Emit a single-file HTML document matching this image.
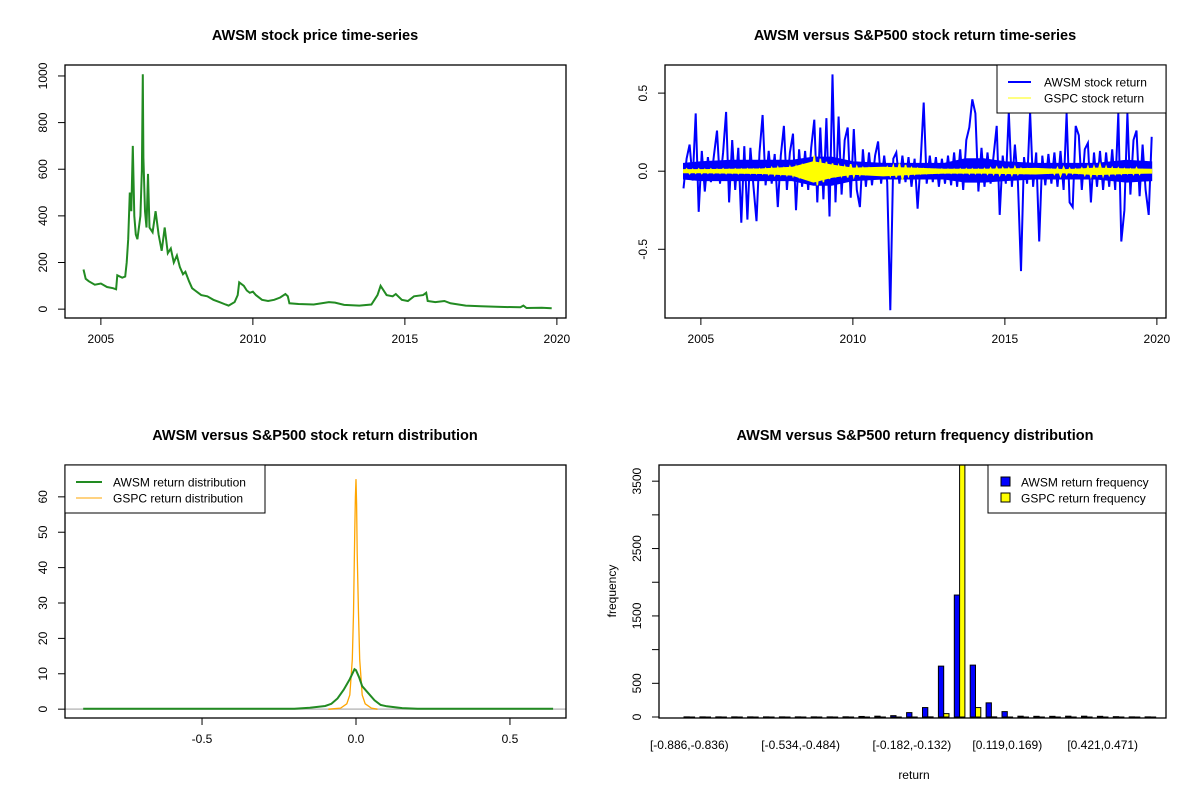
<!DOCTYPE html>
<html><head><meta charset="utf-8"><style>
body{margin:0;background:#fff;}
svg{display:block;font-family:"Liberation Sans",Arial,sans-serif;}
text{fill:#000;}
.t{font-size:14.5px;font-weight:bold;}
.k{font-size:12px;}
</style></head><body>
<svg id="c" width="1200" height="800" viewBox="0 0 1200 800">
<rect width="1200" height="800" fill="#fff"/>
</svg>
<script>
// ---- price panel data
const priceDates=[2004.43,2004.5,2004.6,2004.8,2005.0,2005.2,2005.4,2005.5,2005.54,2005.7,2005.8,2005.85,2005.9,2005.95,2006.0,2006.05,2006.1,2006.15,2006.2,2006.3,2006.35,2006.38,2006.4,2006.45,2006.5,2006.55,2006.6,2006.7,2006.8,2006.9,2007.0,2007.1,2007.2,2007.3,2007.4,2007.5,2007.6,2007.7,2007.78,2007.9,2008.0,2008.1,2008.2,2008.3,2008.5,2008.7,2008.9,2009.1,2009.2,2009.4,2009.5,2009.55,2009.7,2009.8,2009.9,2010.0,2010.1,2010.3,2010.5,2010.7,2010.9,2011.07,2011.15,2011.2,2011.5,2012.0,2012.5,2012.7,2013.0,2013.5,2013.9,2014.1,2014.2,2014.4,2014.6,2014.7,2014.9,2015.1,2015.3,2015.6,2015.7,2015.75,2016.0,2016.3,2016.5,2017.0,2017.5,2018.0,2018.8,2018.9,2019.0,2019.5,2019.83];
const priceValues=[170,130,120,105,110,95,90,85,145,135,140,200,300,500,420,700,400,320,300,400,600,1007,650,420,350,580,350,330,420,320,250,350,240,260,200,230,180,150,160,120,90,80,70,60,55,40,30,20,15,30,60,115,100,80,70,75,60,40,35,40,50,65,55,25,22,20,30,28,18,15,20,60,100,60,55,65,40,35,55,60,70,35,30,35,25,15,12,10,8,15,5,6,4];
const priceTicks=[0,200,400,600,800,1000];
const yearTicks=[2005,2010,2015,2020];
// ---- returns panel data (one value every 0.1 year starting 2004.43)
const retStart=2004.43, retStep=0.1;
const awsmReturns=[-0.11,0.08,0.17,-0.06,0.37,-0.26,0.13,-0.13,0.09,-0.07,0.1,0.26,-0.08,0.12,0.38,-0.2,0.2,-0.12,0.15,-0.33,0.16,-0.31,0.15,-0.1,-0.32,0.12,0.36,-0.09,0.13,-0.08,0.11,-0.23,0.1,0.29,-0.12,0.12,0.24,-0.25,0.14,-0.1,0.13,-0.12,0.15,0.33,-0.2,0.28,-0.18,0.34,-0.29,0.62,-0.2,0.35,-0.15,0.2,0.28,-0.17,0.27,-0.12,-0.23,0.14,-0.1,0.12,-0.09,0.1,0.19,-0.08,0.1,-0.07,-0.89,0.08,0.12,-0.08,0.1,-0.07,0.09,-0.1,0.08,-0.24,0.07,0.44,-0.08,0.1,-0.07,0.09,-0.1,0.08,-0.08,0.1,-0.09,0.12,-0.1,0.14,-0.12,0.2,0.28,0.46,0.37,-0.13,0.15,-0.1,0.12,-0.08,0.1,0.29,-0.28,0.1,-0.08,0.38,-0.1,0.17,-0.07,-0.64,0.09,-0.08,0.38,-0.1,0.12,-0.45,0.1,-0.09,0.11,-0.08,0.12,-0.1,0.13,-0.12,0.37,-0.2,-0.23,0.29,0.23,-0.12,0.14,0.18,-0.2,0.12,-0.1,0.13,-0.12,0.12,-0.1,0.14,-0.12,0.37,-0.45,-0.25,0.37,-0.15,0.2,0.26,-0.16,0.17,-0.12,-0.28,0.22];
const gspcReturns=[-0.01,0.015,-0.015,0.012,-0.012,0.015,-0.014,0.012,-0.012,0.014,-0.013,0.012,-0.012,0.015,-0.014,0.012,-0.013,0.014,-0.015,0.013,-0.012,0.015,-0.014,0.013,-0.015,0.014,-0.016,0.018,-0.02,0.022,-0.025,0.025,-0.022,0.02,-0.025,0.028,-0.03,0.03,-0.035,0.035,-0.04,0.045,-0.05,0.1,-0.09,0.08,-0.07,0.06,-0.05,0.05,-0.04,0.035,-0.03,0.03,-0.04,0.045,-0.035,0.03,-0.025,0.022,-0.02,0.02,-0.018,0.016,-0.015,0.014,-0.02,0.025,-0.03,0.035,-0.04,0.05,-0.055,0.04,-0.03,0.022,-0.02,0.018,-0.016,0.015,-0.014,0.013,-0.013,0.012,-0.012,0.013,-0.012,0.012,-0.013,0.012,-0.012,0.014,-0.013,0.015,-0.016,0.014,-0.015,0.013,-0.014,0.016,-0.018,0.02,-0.02,0.025,-0.025,0.022,-0.02,0.02,-0.025,0.028,-0.02,0.018,-0.015,0.015,-0.014,0.012,-0.012,0.011,-0.01,0.01,-0.012,0.012,-0.02,0.022,-0.03,0.025,-0.02,0.018,-0.016,0.015,-0.014,0.02,-0.025,0.03,-0.035,0.03,-0.025,0.045,-0.03,0.028,-0.025,0.022,-0.02,0.02,-0.018,0.016,-0.015,0.014,-0.02,0.022,-0.018,0.015];
// typical daily-return envelope (dense band) by date
const bandDates=[2004.43,2005,2006,2007,2008,2008.7,2009.3,2010,2011,2012,2013,2013.7,2014.3,2015,2016,2017,2018,2019,2019.83];
const awsmBandHi=[0.05,0.06,0.07,0.07,0.07,0.09,0.09,0.06,0.05,0.05,0.05,0.08,0.08,0.06,0.05,0.05,0.05,0.07,0.06];
const awsmBandLo=[-0.05,-0.06,-0.06,-0.06,-0.06,-0.09,-0.09,-0.06,-0.05,-0.05,-0.05,-0.07,-0.07,-0.06,-0.05,-0.05,-0.05,-0.07,-0.06];
const gspcBandHi=[0.01,0.01,0.012,0.015,0.025,0.06,0.04,0.02,0.025,0.02,0.012,0.012,0.012,0.015,0.018,0.01,0.02,0.015,0.012];
const gspcBandLo=[-0.01,-0.01,-0.012,-0.015,-0.025,-0.07,-0.04,-0.02,-0.03,-0.02,-0.012,-0.012,-0.012,-0.015,-0.018,-0.01,-0.022,-0.015,-0.012];
const retTicks=[-0.5,0,0.5];
// ---- density panel data
const awsmDensX=[-0.886,-0.2,-0.15,-0.1,-0.08,-0.06,-0.04,-0.02,-0.005,0.0,0.01,0.02,0.04,0.06,0.08,0.1,0.15,0.2,0.64];
const awsmDensY=[0.1,0.1,0.4,0.9,1.5,3,5.5,8.5,11.3,11,9,6.5,4.5,2.5,1.2,0.8,0.3,0.1,0.1];
const gspcDensX=[-0.09,-0.05,-0.03,-0.02,-0.012,-0.008,-0.004,-0.002,0,0.002,0.004,0.008,0.012,0.02,0.03,0.05,0.07];
const gspcDensY=[0,0.3,1.5,4,14,27,51,60,65,58,44,27,14,4,1.5,0.3,0];
const densXTicks=[-0.5,0,0.5];
const densYTicks=[0,10,20,30,40,50,60];
// ---- histogram data
const binLabels=["[-0.886,-0.836)","[-0.534,-0.484)","[-0.182,-0.132)","[0.119,0.169)","[0.421,0.471)"];
const binLabelIdx=[0,7,14,20,26];
const awsmFreq=[2,2,2,2,2,2,2,2,2,2,3,8,12,20,65,140,755,1810,770,210,80,12,10,10,12,12,10,5,2,2];
const gspcFreq=[0,0,0,0,0,0,0,0,0,0,0,0,0,0,0,2,50,3830,140,2,0,0,0,0,0,0,0,0,0,0];
const freqTicks=[0,500,1000,1500,2000,2500,3000,3500];
const freqLabels=["0","500","","1500","","2500","","3500"];

const NS="http://www.w3.org/2000/svg";
const svg=document.getElementById('c');
function el(tag,attrs,parent){const e=document.createElementNS(NS,tag);for(const k in attrs)e.setAttribute(k,attrs[k]);(parent||svg).appendChild(e);return e;}
function lin(d0,d1,r0,r1){return v=>r0+(v-d0)/(d1-d0)*(r1-r0);}
function txt(x,y,s,cls,anchor,rot,name){const t=el('text',{x:x,y:y,class:cls,'text-anchor':anchor||'middle'});if(rot)t.setAttribute('transform','rotate(-90 '+x+' '+y+')');t.textContent=s;


return t;}
function box(x0,y0,x1,y1,name){const r=el('rect',{x:x0,y:y0,width:x1-x0,height:y1-y0,fill:'none',stroke:'#000','stroke-width':1.3});

}
function xaxis(ticks,sx,y,labels,name){const g=el('g',{});


el('line',{x1:sx(ticks[0]),x2:sx(ticks[ticks.length-1]),y1:y,y2:y,stroke:'#000'},g);
ticks.forEach((t,i)=>{el('line',{x1:sx(t),x2:sx(t),y1:y,y2:y+7,stroke:'#000'},g);txt(sx(t),y+25,labels?labels[i]:String(t),'k','middle',false,'x-tick-label');});}
function yaxis(ticks,sy,x,labels,name){const g=el('g',{});


el('line',{x1:x,x2:x,y1:sy(ticks[0]),y2:sy(ticks[ticks.length-1]),stroke:'#000'},g);
ticks.forEach((t,i)=>{el('line',{x1:x-7,x2:x,y1:sy(t),y2:sy(t),stroke:'#000'},g);const l=labels?labels[i]:String(t);if(l)txt(x-18,sy(t),l,'k','middle',true,'y-tick-label');});}
function poly(xs,ys,sx,sy,color,w,name,clip){const p=xs.map((x,i)=>sx(x).toFixed(1)+','+sy(ys[i]).toFixed(1)).join(' ');const e=el('polyline',{points:p,fill:'none',stroke:color,'stroke-width':w,'stroke-linejoin':'miter'});


if(clip)e.setAttribute('clip-path',clip);}
function band(xs,hi,lo,sx,sy,color,name){const pts=xs.map((x,i)=>sx(x).toFixed(1)+','+sy(hi[i]).toFixed(1));for(let i=xs.length-1;i>=0;i--)pts.push(sx(xs[i]).toFixed(1)+','+sy(lo[i]).toFixed(1));
const e=el('polygon',{points:pts.join(' '),fill:color,stroke:color,'stroke-width':1});

}
const defs=el('defs',{});
[['cp1',65,65,501,253],['cp2',665,65,501,253],['cp3',65,465,501,253],['cp4',659,465,507,253]].forEach(c=>{const cp=el('clipPath',{id:c[0]},defs);el('rect',{x:c[1],y:c[2],width:c[3],height:c[4]},cp);});

// ---- Panel 1
txt(315,40,'AWSM stock price time-series','t','middle',false,'price-title');
const sx1=lin(2003.82,2020.3,65,566), sy1=lin(-38,1047,318,65);
poly(priceDates,priceValues,sx1,sy1,'#228B22',2,'awsm-price-line','url(#cp1)');
box(65,65,566,318,'price-plot-box');
xaxis(yearTicks,sx1,318,null,'price-x-axis');
yaxis(priceTicks,sy1,65,null,'price-y-axis');

// ---- Panel 2
txt(915,40,'AWSM versus S&P500 stock return time-series','t','middle',false,'return-title');
const sx2=lin(2003.82,2020.3,665,1166), sy2=lin(-0.94,0.68,318,65);
const retDates=awsmReturns.map((_,i)=>retStart+i*retStep);
band(bandDates,awsmBandHi,awsmBandLo,sx2,sy2,'#0000FF','awsm-return-band');
poly(retDates,awsmReturns,sx2,sy2,'#0000FF',2,'awsm-return-line','url(#cp2)');
band(bandDates,gspcBandHi,gspcBandLo,sx2,sy2,'#FFFF00','gspc-return-band');
poly(retDates,gspcReturns,sx2,sy2,'#FFFF00',1.5,'gspc-return-line','url(#cp2)');
box(665,65,1166,318,'return-plot-box');
xaxis(yearTicks,sx2,318,null,'return-x-axis');
yaxis(retTicks,sy2,665,['-0.5','0.0','0.5'],'return-y-axis');
(function(){const g=el('g',{});


el('rect',{x:997,y:65,width:169,height:48,fill:'#fff',stroke:'#000','stroke-width':1},g);
el('line',{x1:1008,x2:1031,y1:82,y2:82,stroke:'#0000FF','stroke-width':2},g);
el('line',{x1:1008,x2:1031,y1:98,y2:98,stroke:'#FFFF00','stroke-width':1},g);
txt(1044,86.5,'AWSM stock return','k','start',false,'legend-awsm-return');
txt(1044,102.5,'GSPC stock return','k','start',false,'legend-gspc-return');})();

// ---- Panel 3
txt(315,440,'AWSM versus S&P500 stock return distribution','t','middle',false,'density-title');
const sx3=lin(-0.945,0.682,65,566), sy3=lin(-2.5,69,718,465);
const zl=el('line',{x1:65,x2:566,y1:sy3(0),y2:sy3(0),stroke:'#bebebe','stroke-width':1.5});


poly(gspcDensX,gspcDensY,sx3,sy3,'#FFA500',1.3,'gspc-density-line','url(#cp3)');
poly(awsmDensX,awsmDensY,sx3,sy3,'#228B22',2,'awsm-density-line','url(#cp3)');
box(65,465,566,718,'density-plot-box');
xaxis(densXTicks,sx3,718,['-0.5','0.0','0.5'],'density-x-axis');
yaxis(densYTicks,sy3,65,null,'density-y-axis');
(function(){const g=el('g',{});


el('rect',{x:65,y:465,width:200,height:48,fill:'#fff',stroke:'#000','stroke-width':1},g);
el('line',{x1:76,x2:102,y1:482,y2:482,stroke:'#228B22','stroke-width':2},g);
el('line',{x1:76,x2:102,y1:498,y2:498,stroke:'#FFA500','stroke-width':1},g);
txt(113,486.5,'AWSM return distribution','k','start',false,'legend-awsm-density');
txt(113,502.5,'GSPC return distribution','k','start',false,'legend-gspc-density');})();

// ---- Panel 4
txt(915,440,'AWSM versus S&P500 return frequency distribution','t','middle',false,'histogram-title');
const sy4=lin(0,3740,717,465);
const grp=15.9, bw=grp/3, x4=684;
const bars=el('g',{'clip-path':'url(#cp4)'});


awsmFreq.forEach((v,i)=>{const b=el('rect',{x:x4+i*grp,y:sy4(v),width:bw,height:Math.max(0.5,sy4(0)-sy4(v)),fill:'#0000FF',stroke:'#000','stroke-width':1},bars);

});
gspcFreq.forEach((v,i)=>{const b=el('rect',{x:x4+i*grp+bw,y:sy4(v),width:bw,height:Math.max(0.5,sy4(0)-sy4(v)),fill:'#FFFF00',stroke:'#000','stroke-width':1},bars);

});
box(659,465,1166,718,'histogram-plot-box');
yaxis(freqTicks,sy4,659,freqLabels,'histogram-y-axis');
binLabelIdx.forEach((gi,i)=>txt(x4+gi*grp+bw,749,binLabels[i],'k','middle',false,'bin-label'));
txt(914,779,'return','k','middle',false,'histogram-x-title');
txt(616,591,'frequency','k','middle',true,'histogram-y-title');
(function(){const g=el('g',{});


el('rect',{x:988,y:465,width:178,height:48,fill:'#fff',stroke:'#000','stroke-width':1},g);
el('rect',{x:1001,y:477,width:9,height:9,fill:'#0000FF',stroke:'#000'},g);
el('rect',{x:1001,y:493,width:9,height:9,fill:'#FFFF00',stroke:'#000'},g);
txt(1021,486.5,'AWSM return frequency','k','start',false,'legend-awsm-freq');
txt(1021,502.5,'GSPC return frequency','k','start',false,'legend-gspc-freq');})();
</script>
</body></html>
